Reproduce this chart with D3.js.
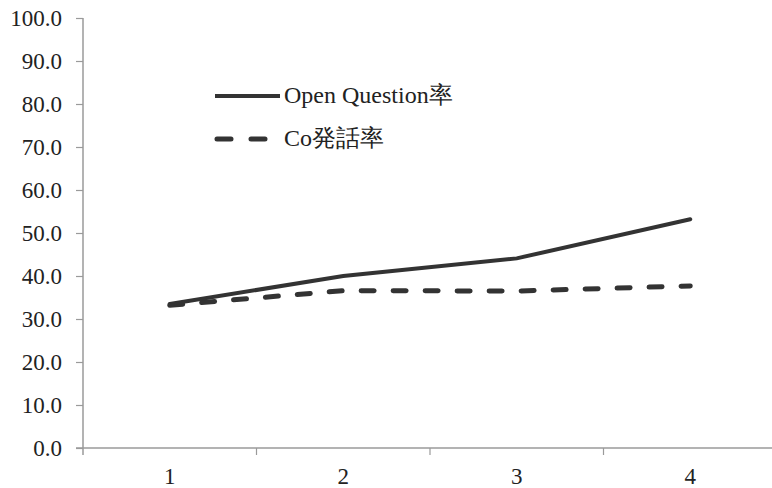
<!DOCTYPE html>
<html><head><meta charset="utf-8">
<script src="https://cdn.jsdelivr.net/npm/d3@7"></script>
<style>body{margin:0;background:#fff}svg{display:block}</style>
</head><body><svg id="c" width="772" height="488"></svg>
<script>
const categories = ["1","2","3","4"];
const openQuestion = [33.5, 40.0, 44.1, 53.2];
const coUtterance = [33.2, 36.6, 36.5, 37.7];
const yTicks = [0,10,20,30,40,50,60,70,80,90,100];
const seriesNames = ["Open Question率","Co発話率"];

const FONT = '"Liberation Serif"';
const svg = d3.select("#c");
const m = {left:83, top:18, bottom:448, right:777};
const x = d3.scaleBand().domain(categories).range([m.left, m.right]);
const y = d3.scaleLinear().domain([0,100]).range([m.bottom, m.top]);
const axisColor = "#9a9a9a";

// y axis
const ya = svg.append("g").attr("transform",`translate(${m.left},0)`)
  .call(d3.axisLeft(y).tickValues(yTicks).tickSize(7).tickPadding(14).tickFormat(d3.format(".1f")));
ya.select(".domain").attr("stroke",axisColor).attr("stroke-width",1.5).attr("d",`M0,${m.bottom+7}V${m.top}`);
ya.selectAll(".tick line").attr("stroke",axisColor).attr("stroke-width",1.2);
ya.selectAll(".tick text").style("font-family",FONT).style("font-size","23px").attr("fill","#222");

// x axis
const xa = svg.append("g").attr("transform",`translate(0,${m.bottom})`)
  .call(d3.axisBottom(x).tickSize(0).tickPadding(20));
xa.select(".domain").attr("stroke",axisColor).attr("stroke-width",1.5).attr("d",`M${m.left-7},0H${m.right}`);
xa.selectAll(".tick text").style("font-family",FONT).style("font-size","23px").attr("fill","#222");
const boundaries = categories.map((c,i)=>x(c)).slice(1);
xa.selectAll(".bt").data(boundaries).enter().append("line")
  .attr("x1",d=>d).attr("x2",d=>d).attr("y1",0).attr("y2",7)
  .attr("stroke",axisColor).attr("stroke-width",1.2);

const line = d3.line().x((d,i)=>x(categories[i])+x.bandwidth()/2).y(d=>y(d));
svg.append("path").datum(coUtterance).attr("d",line).attr("fill","none")
  .attr("stroke","#333").attr("stroke-width",5).attr("stroke-dasharray","13,19").attr("stroke-linecap","round");
svg.append("path").datum(openQuestion).attr("d",line).attr("fill","none")
  .attr("stroke","#333").attr("stroke-width",4).attr("stroke-linecap","round");

// legend
const lg = svg.append("g");
lg.append("line").attr("x1",215).attr("x2",280).attr("y1",96).attr("y2",96).attr("stroke","#333").attr("stroke-width",4);
lg.append("text").attr("x",284).attr("y",103).style("font-family",FONT).style("font-size","24px").attr("fill","#222").text(seriesNames[0]);
lg.append("line").attr("x1",217).attr("x2",268).attr("y1",139).attr("y2",139).attr("stroke","#333").attr("stroke-width",5).attr("stroke-dasharray","14,20").attr("stroke-linecap","round");
lg.append("text").attr("x",284).attr("y",146).style("font-family",FONT).style("font-size","24px").attr("fill","#222").text(seriesNames[1]);
</script></body></html>
